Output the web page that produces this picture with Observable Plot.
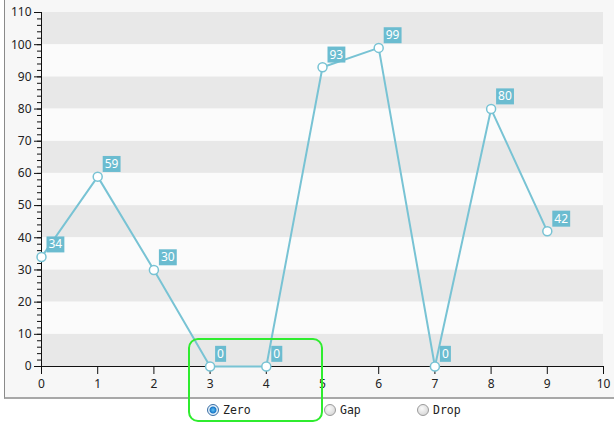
<!DOCTYPE html>
<html>
<head>
<meta charset="utf-8">
<script src="https://cdn.jsdelivr.net/npm/d3@7"></script>
<script src="https://cdn.jsdelivr.net/npm/@observablehq/plot@0.6"></script>
<style>
  html, body { margin: 0; padding: 0; background: #fff; }
  #wrap { position: relative; width: 616px; height: 427px; font-family: "Noto Sans", sans-serif; }
  #panel { position: absolute; left: 4px; top: 0; width: 610px; height: 399px; background: #f7f7f7;
           border-left: 1px solid #8a8a8a; border-bottom: 2px solid #a8a8a8; box-sizing: border-box; }
  #chart { position: absolute; left: 0; top: 0; }
  .radio { position: absolute; top: 403px; font-family: "DejaVu Sans Mono", monospace; font-size: 11.5px; color: #222; line-height: 15px; }
  .radio .c { position: absolute; left: 0; top: 1px; width: 10px; height: 10px; border-radius: 50%;
              border: 1px solid #9a9a9a; background: radial-gradient(circle at 40% 35%, #fafafa, #cfcfcf); }
  .radio.sel .c { border-color: #3a6ea5; background: radial-gradient(circle, #5ec2f5 0, #1b78c8 3px, #eaf4fb 4px, #d6e6f2 6px); }
  .radio span { position: absolute; left: 16px; top: 0; white-space: nowrap; }
  #hl { position: absolute; left: 188px; top: 338px; width: 135px; height: 84px; border: 2px solid #2fec2f;
        border-radius: 10px; box-sizing: border-box; pointer-events: none; }
</style>
</head>
<body>
<div id="wrap">
  <div id="panel"></div>
  <div id="chart"></div>
  <div class="radio sel" style="left:207px"><div class="c"></div><span>Zero</span></div>
  <div class="radio" style="left:324px"><div class="c"></div><span>Gap</span></div>
  <div class="radio" style="left:417px"><div class="c"></div><span>Drop</span></div>
  <div id="hl"></div>
</div>
<script>
const xs = [0, 1, 2, 3, 4, 5, 6, 7, 8, 9];
const values = [34, 59, 30, 0, 0, 93, 99, 0, 80, 42];
const bandStarts = [0, 20, 40, 60, 80, 100];
const lightStarts = [10, 30, 50, 70, 90];
const xTicks = [0, 1, 2, 3, 4, 5, 6, 7, 8, 9, 10];
const yTicks = [0, 10, 20, 30, 40, 50, 60, 70, 80, 90, 100, 110];
const yMinorTicks = d3.range(0, 111, 2);

const data = xs.map((x, i) => ({x, y: values[i]}));
const lineColor = "#78c3d4";
const labelColor = "#6bbcd0";

const chart = Plot.plot({
  width: 616,
  height: 400,
  marginLeft: 41,
  marginRight: 13,
  marginTop: 12,
  marginBottom: 34,
  style: { background: "transparent", fontFamily: "Noto Sans, sans-serif", fontSize: "12px", color: "#222" },
  x: { domain: [0, 10], label: null },
  y: { domain: [0, 110], label: null },
  marks: [
    Plot.rect(bandStarts, { x1: () => 0, x2: () => 10, y1: d => d, y2: d => d + 10, fill: "#e8e8e8" }),
    Plot.rect(lightStarts, { x1: () => 0, x2: () => 10, y1: d => d, y2: d => d + 10, fill: "#fbfbfb" }),
    Plot.axisY({ ticks: yMinorTicks, tickSize: 4, text: null, stroke: "#111", label: null }),
    Plot.axisY({ ticks: yTicks, tickSize: 7, tickPadding: 3, stroke: "#111", fill: "#222", label: null }),
    Plot.axisX({ ticks: xTicks, tickSize: 8, tickPadding: 5, stroke: "#111", fill: "#222", label: null }),
    Plot.ruleX([0], { stroke: "#111" }),
    Plot.ruleY([0], { stroke: "#111" }),
    Plot.line(data, { x: "x", y: "y", stroke: lineColor, strokeWidth: 2 }),
    Plot.dot(data, { x: "x", y: "y", r: 4.5, fill: "white", stroke: lineColor, strokeWidth: 1.5 }),
    Plot.text(data, { x: "x", y: "y", text: d => String(d.y), textAnchor: "start", dx: 7, dy: -12.5,
                      fill: "white", fontSize: 12, className: "vlabel" })
  ]
});
document.getElementById("chart").appendChild(chart);

// add filled boxes behind value labels
const g = chart.querySelector("g.vlabel") || [...chart.querySelectorAll("g")].find(n => n.getAttribute("class") && n.getAttribute("class").includes("vlabel"));
if (g) {
  g.querySelectorAll("text").forEach(t => {
    const b = t.getBBox();
    const r = document.createElementNS("http://www.w3.org/2000/svg", "rect");
    r.setAttribute("x", b.x - 2);
    r.setAttribute("y", b.y + 1);
    r.setAttribute("width", b.width + 4);
    r.setAttribute("height", b.height - 1);
    r.setAttribute("fill", labelColor);
    const tr = t.getAttribute("transform");
    if (tr) r.setAttribute("transform", tr);
    g.insertBefore(r, t);
  });
}
</script>
</body>
</html>
